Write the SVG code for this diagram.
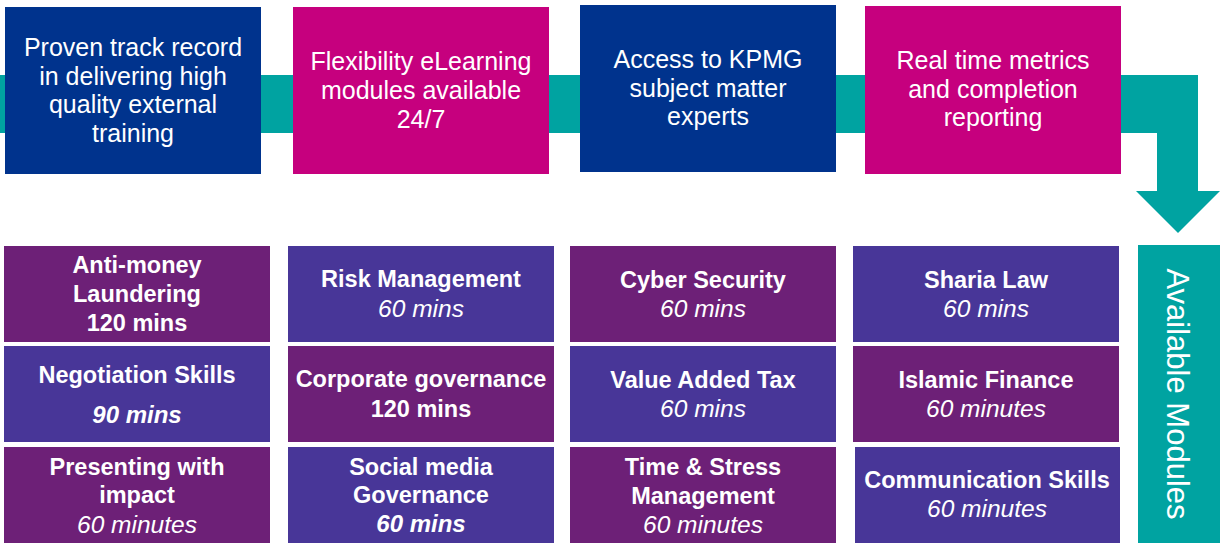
<svg xmlns="http://www.w3.org/2000/svg" width="1220" height="543" viewBox="0 0 1220 543">
<style>
.blue{fill:#00338D}
.mag{fill:#C6007E}
.pur{fill:#6D2077}
.vio{fill:#483698}
.teal{fill:#00A3A1}
text{fill:#fff;font-family:"Liberation Sans",Arial,sans-serif;text-anchor:middle}
.top{font-size:25px}
.t{font-size:23.5px;font-weight:bold}
.i{font-size:24.5px;font-style:italic}
.bi{font-size:24px;font-style:italic;font-weight:bold}
.side{font-size:31px}
</style>
<rect width="1220" height="543" fill="#fff"/>
<g id="connectors">
<path class="teal" d="M0,75 H1198 V191 H1220 L1178,233 L1136,191 H1157 V133 H0 Z"/>
</g>
<g id="n1"><rect class="blue" x="5" y="7" width="256" height="167"/>
<text class="top" x="133" y="56">Proven track record</text><text class="top" x="133" y="85">in delivering high</text><text class="top" x="133" y="113">quality external</text><text class="top" x="133" y="142">training</text></g>
<g id="n2"><rect class="mag" x="293" y="7" width="256" height="167"/>
<text class="top" x="421" y="70">Flexibility eLearning</text><text class="top" x="421" y="99">modules available</text><text class="top" x="421" y="128">24/7</text></g>
<g id="n3"><rect class="blue" x="580" y="5" width="256" height="167"/>
<text class="top" x="708" y="68">Access to KPMG</text><text class="top" x="708" y="97">subject matter</text><text class="top" x="708" y="125">experts</text></g>
<g id="n4"><rect class="mag" x="865" y="6" width="256" height="168"/>
<text class="top" x="993" y="69">Real time metrics</text><text class="top" x="993" y="98">and completion</text><text class="top" x="993" y="126">reporting</text></g>

<g id="m1"><rect class="pur" x="4" y="246" width="266" height="96"/>
<text class="t" x="137" y="273">Anti-money</text><text class="t" x="137" y="302">Laundering</text><text class="t" x="137" y="331">120 mins</text></g>
<g id="m2"><rect class="vio" x="288" y="246" width="266" height="96"/>
<text class="t" x="421" y="287">Risk Management</text><text class="i" x="421" y="317">60 mins</text></g>
<g id="m3"><rect class="pur" x="570" y="246" width="266" height="96"/>
<text class="t" x="703" y="288">Cyber Security</text><text class="i" x="703" y="317">60 mins</text></g>
<g id="m4"><rect class="vio" x="853" y="246" width="266" height="96"/>
<text class="t" x="986" y="288">Sharia Law</text><text class="i" x="986" y="317">60 mins</text></g>

<g id="m5"><rect class="vio" x="4" y="346" width="266" height="96"/>
<text class="t" x="137" y="383">Negotiation Skills</text><text class="bi" x="137" y="423">90 mins</text></g>
<g id="m6"><rect class="pur" x="288" y="346" width="266" height="96"/>
<text class="t" x="421" y="387">Corporate governance</text><text class="t" x="421" y="417">120 mins</text></g>
<g id="m7"><rect class="vio" x="570" y="346" width="266" height="96"/>
<text class="t" x="703" y="388">Value Added Tax</text><text class="i" x="703" y="417">60 mins</text></g>
<g id="m8"><rect class="pur" x="853" y="346" width="266" height="96"/>
<text class="t" x="986" y="388">Islamic Finance</text><text class="i" x="986" y="417">60 minutes</text></g>

<g id="m9"><rect class="pur" x="4" y="447" width="266" height="96"/>
<text class="t" x="137" y="475">Presenting with</text><text class="t" x="137" y="503">impact</text><text class="i" x="137" y="533">60 minutes</text></g>
<g id="m10"><rect class="vio" x="288" y="447" width="266" height="96"/>
<text class="t" x="421" y="475">Social media</text><text class="t" x="421" y="503">Governance</text><text class="bi" x="421" y="532">60 mins</text></g>
<g id="m11"><rect class="pur" x="570" y="447" width="266" height="96"/>
<text class="t" x="703" y="475">Time &amp; Stress</text><text class="t" x="703" y="504">Management</text><text class="i" x="703" y="533">60 minutes</text></g>
<g id="m12"><rect class="vio" x="855" y="447" width="265" height="96"/>
<text class="t" x="987" y="488">Communication Skills</text><text class="i" x="987" y="517">60 minutes</text></g>

<g id="available"><rect class="teal" x="1138" y="245" width="82" height="298"/>
<text class="side" transform="translate(1167,394) rotate(90)" x="0" y="0">Available Modules</text></g>
</svg>
